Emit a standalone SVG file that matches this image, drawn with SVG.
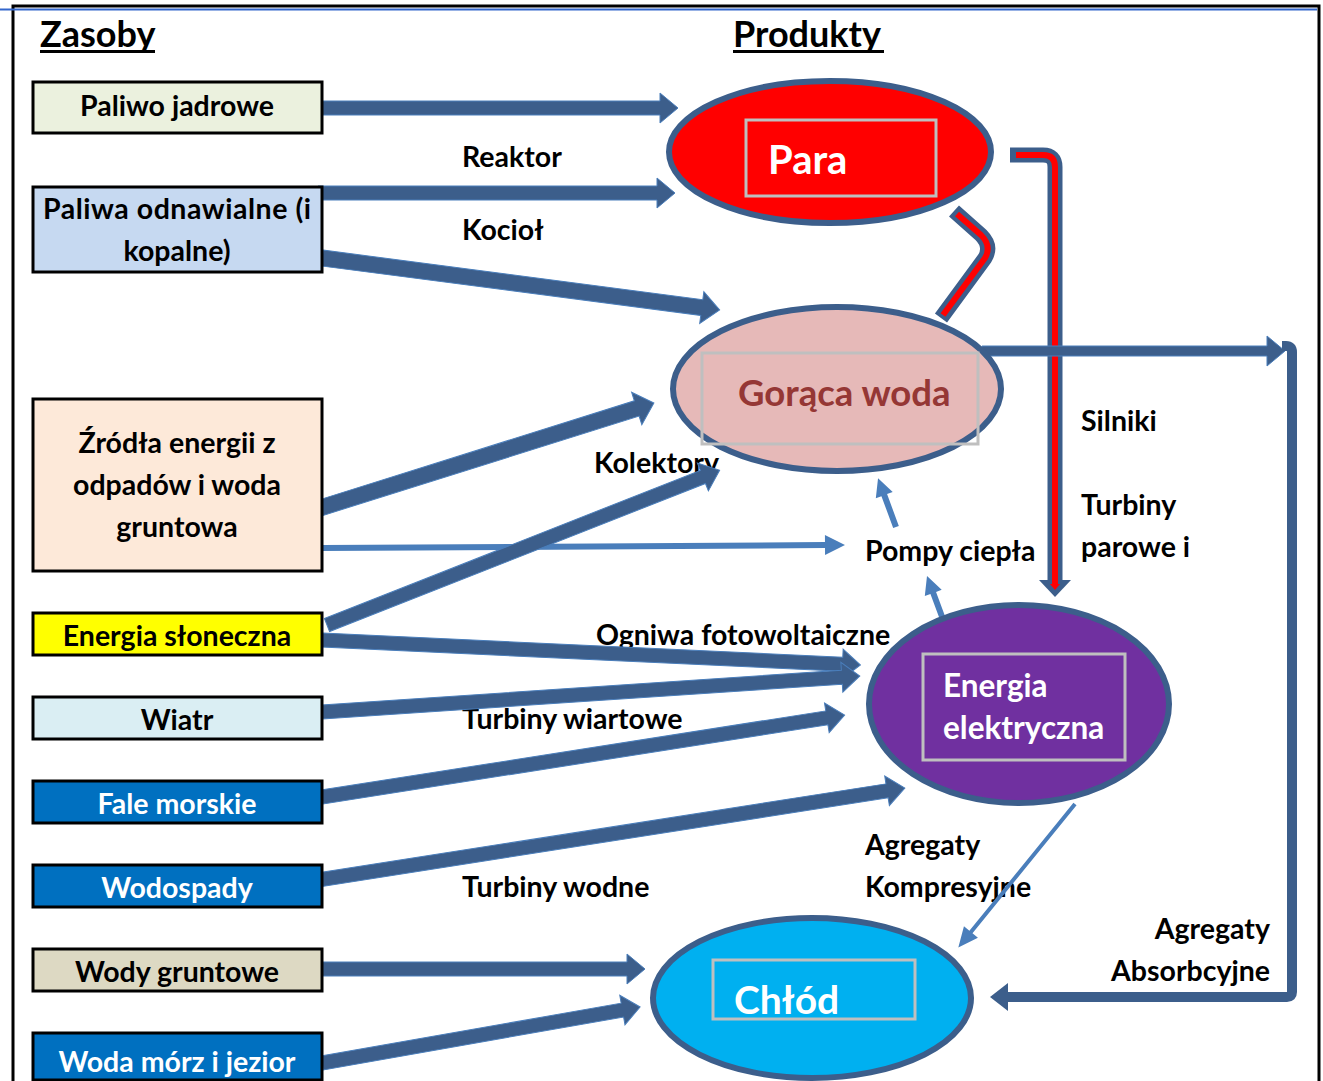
<svg xmlns="http://www.w3.org/2000/svg" width="1323" height="1081" viewBox="0 0 1323 1081">
  <style>
    .t { font-family: Lato, "Noto Sans", "Liberation Sans", sans-serif; font-weight: bold; font-size: 28.5px; fill: #000; }
    .mid { text-anchor: middle; }
    .end { text-anchor: end; }
    .wt { fill: #fff; }
    .box { stroke: #000; stroke-width: 3; }
    .arr { fill: #3C5E8B; stroke: #4A7EBB; stroke-width: 1; }
    .lt { fill: #4A7EBB; }
    .ell { stroke: #3C5E8B; stroke-width: 6; }
    .inner { fill: none; stroke: #BFBFBF; stroke-width: 3; }
    .pipe { fill: none; stroke: #3C5E8B; stroke-width: 15; stroke-linejoin: round; }
    .core { fill: none; stroke: #FF0000; stroke-width: 6; stroke-linejoin: round; }
  </style>

  <!-- page frame -->
  <g id="frame">
    <path d="M13 1081 V6 H1319 V1081" fill="none" stroke="#000" stroke-width="3"/>
    <path d="M0 9.5 H1317" stroke="#3366CC" stroke-width="2"/>
  </g>

  <!-- column headings -->
  <g id="headings">
    <text class="t" x="40" y="47" style="font-size:36px">Zasoby</text>
    <rect x="40" y="50" width="115" height="3"/>
    <text class="t" x="733" y="47" style="font-size:36px">Produkty</text>
    <rect x="733" y="50" width="151" height="3"/>
  </g>

  <!-- process labels -->
  <g id="labels">
    <text class="t" x="462" y="167">Reaktor</text>
    <text class="t" x="462" y="240">Kocioł</text>
    <text class="t" x="594" y="473">Kolektory</text>
    <text class="t" x="865" y="561">Pompy ciepła</text>
    <text class="t" x="1081" y="431">Silniki</text>
    <text class="t" x="1081" y="515">Turbiny</text>
    <text class="t" x="1081" y="557">parowe i</text>
    <text class="t" x="596" y="645">Ogniwa fotowoltaiczne</text>
    <text class="t" x="462" y="729">Turbiny wiartowe</text>
    <text class="t" x="462" y="897">Turbiny wodne</text>
    <text class="t" x="865" y="855">Agregaty</text>
    <text class="t" x="865" y="897">Kompresyjne</text>
    <text class="t end" x="1270" y="939">Agregaty</text>
    <text class="t end" x="1270" y="981">Absorbcyjne</text>
  </g>

  <!-- connectors -->
  <g id="connectors">
    <!-- steam pipes -->
    <path class="pipe" d="M1010 155 H1043 Q1055 155 1055 167 V582"/>
    <polygon points="1039,580 1071,580 1055,597" fill="#3C5E8B"/>
    <path class="core" d="M1016 155 H1043 Q1055 155 1055 167 V585"/>
    <polygon points="1050,584 1060,584 1055,590" fill="#FF0000"/>
    <path class="pipe" d="M954 211 L981 235 Q992 246 985 258 L941 318"/>
    <path class="core" d="M957 214 L981 235 Q992 246 985 258 L943 315"/>

    <!-- fuels to steam / hot water -->
    <polygon class="arr" transform="translate(322,108)" points="0,-7 338,-7 338,-15 356,0 338,15 338,7 0,7"/>
    <polygon class="arr" transform="translate(318,193)" points="0,-7 339,-7 339,-15 357,0 339,15 339,7 0,7"/>
    <polygon class="arr" transform="translate(322,258) rotate(7.44)" points="0,-8 383,-8 383,-16 401,0 383,16 383,8 0,8"/>
    <polygon class="arr" transform="translate(320,508) rotate(-17.45)" points="0,-8 332,-8 332,-17 350,0 332,17 332,8 0,8"/>
    <polygon class="lt" transform="translate(322,548) rotate(-0.33)" points="0,-3 503,-3 503,-10 523,0 503,10 503,3 0,3"/>
    <polygon class="arr" transform="translate(327,625) rotate(-21.5)" points="0,-7 404,-7 404,-15 422,0 404,15 404,7 0,7"/>

    <!-- sources to electricity -->
    <polygon class="arr" transform="translate(322,640) rotate(2.66)" points="0,-7 521,-7 521,-15 539,0 521,15 521,7 0,7"/>
    <polygon class="arr" transform="translate(322,712) rotate(-3.83)" points="0,-7 521,-7 521,-15 539,0 521,15 521,7 0,7"/>
    <polygon class="arr" transform="translate(322,797) rotate(-8.91)" points="0,-7 511,-7 511,-15 529,0 511,15 511,7 0,7"/>
    <polygon class="arr" transform="translate(318,880) rotate(-8.91)" points="0,-7 576,-7 576,-15 594,0 576,15 576,7 0,7"/>

    <!-- water to cold -->
    <polygon class="arr" transform="translate(322,969)" points="0,-7 305,-7 305,-15 323,0 305,15 305,7 0,7"/>
    <polygon class="arr" transform="translate(322,1063) rotate(-9.99)" points="0,-7 305,-7 305,-15 323,0 305,15 305,7 0,7"/>

    <!-- heat pumps and compressor chillers -->
    <polygon class="lt" transform="translate(896,527) rotate(-110.2)" points="0,-3 34,-3 34,-9 52,0 34,9 34,3 0,3"/>
    <polygon class="lt" transform="translate(944,622) rotate(-110.3)" points="0,-3 31,-3 31,-9 49,0 31,9 31,3 0,3"/>
    <polygon class="lt" transform="translate(1075,804) rotate(129.1)" points="0,-2 165,-2 165,-9 185,0 165,9 165,2 0,2"/>

    <!-- hot water to absorption chillers -->
    <polygon class="arr" transform="translate(982,351)" points="0,-5 285,-5 285,-15 303,0 285,15 285,5 0,5"/>
    <path d="M1282 346 H1286 Q1292 346 1292 352 V992 Q1292 997 1287 997 H1005" fill="none" stroke="#3C5E8B" stroke-width="10"/>
    <polygon points="990,997 1008,983 1008,1011" fill="#3C5E8B"/>
  </g>

  <!-- resource boxes -->
  <g id="paliwo-jadrowe">
    <rect class="box" x="33" y="82" width="289" height="51" fill="#EBF1DE"/>
    <text class="t mid" x="177" y="116">Paliwo jadrowe</text>
  </g>
  <g id="paliwa-odnawialne">
    <rect class="box" x="33" y="187" width="289" height="85" fill="#C6D9F1"/>
    <text class="t mid" x="177" y="219" textLength="268">Paliwa odnawialne (i</text>
    <text class="t mid" x="177" y="261">kopalne)</text>
  </g>
  <g id="zrodla-odpadow">
    <rect class="box" x="33" y="399" width="289" height="172" fill="#FDE9D9"/>
    <text class="t mid" x="177" y="453">Źródła energii z</text>
    <text class="t mid" x="177" y="495">odpadów i woda</text>
    <text class="t mid" x="177" y="537">gruntowa</text>
  </g>
  <g id="energia-sloneczna">
    <rect class="box" x="33" y="613" width="289" height="42" fill="#FFFF00"/>
    <text class="t mid" x="177" y="646">Energia słoneczna</text>
  </g>
  <g id="wiatr">
    <rect class="box" x="33" y="697" width="289" height="42" fill="#DAEEF3"/>
    <text class="t mid" x="177" y="730">Wiatr</text>
  </g>
  <g id="fale-morskie">
    <rect class="box" x="33" y="781" width="289" height="42" fill="#0070C0"/>
    <text class="t mid wt" x="177" y="814">Fale morskie</text>
  </g>
  <g id="wodospady">
    <rect class="box" x="33" y="865" width="289" height="42" fill="#0070C0"/>
    <text class="t mid wt" x="177" y="898">Wodospady</text>
  </g>
  <g id="wody-gruntowe">
    <rect class="box" x="33" y="949" width="289" height="42" fill="#DDD9C3"/>
    <text class="t mid" x="177" y="982">Wody gruntowe</text>
  </g>
  <g id="woda-morz">
    <rect class="box" x="33" y="1033" width="289" height="47" fill="#0070C0"/>
    <text class="t mid wt" x="177" y="1072">Woda mórz i jezior</text>
  </g>

  <!-- product nodes -->
  <g id="para">
    <ellipse class="ell" cx="830" cy="152" rx="161" ry="71" fill="#FF0000"/>
    <rect class="inner" x="746" y="120" width="190" height="76"/>
    <text class="t wt" x="768" y="174" style="font-size:40px">Para</text>
  </g>
  <g id="goraca-woda">
    <ellipse class="ell" cx="837" cy="389" rx="164" ry="82" fill="#E6B9B8"/>
    <rect class="inner" x="702" y="353" width="276" height="91"/>
    <text class="t" x="738" y="406" style="font-size:36.5px; fill:#953735">Gorąca woda</text>
  </g>
  <g id="energia-elektryczna">
    <ellipse class="ell" cx="1019" cy="704" rx="150" ry="99" fill="#7030A0"/>
    <rect class="inner" x="923" y="654" width="202" height="106"/>
    <text class="t wt" x="943" y="697" style="font-size:31.5px">Energia</text>
    <text class="t wt" x="943" y="739" style="font-size:31.5px">elektryczna</text>
  </g>
  <g id="chlod">
    <ellipse class="ell" cx="812" cy="998" rx="159" ry="80" fill="#00B0F0"/>
    <rect class="inner" x="713" y="960" width="202" height="59"/>
    <text class="t wt" x="734" y="1014" style="font-size:39px">Chłód</text>
  </g>
</svg>
